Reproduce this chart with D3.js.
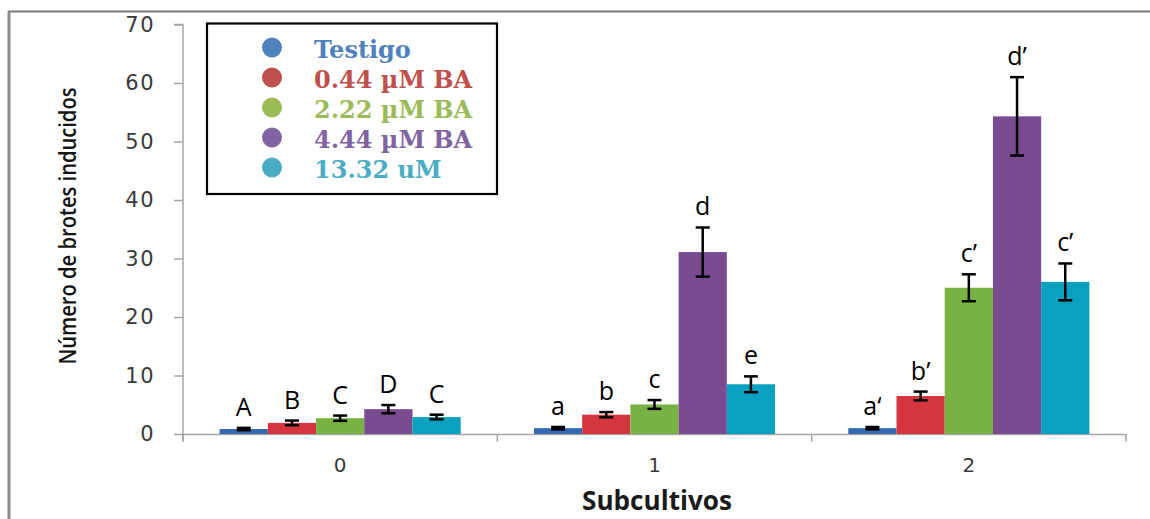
<!DOCTYPE html>
<html lang="es">
<head>
    <meta charset="UTF-8">
    <title>Número de brotes inducidos</title>
    <script src="https://cdn.jsdelivr.net/npm/d3@7"></script>
    <style>
        body{ margin:0; background:#fff; }
        .ytick text{ font-family:"DejaVu Sans",sans-serif; font-size:21px; fill:#3a3a3a; letter-spacing:1.5px; }
        .xtick text{ font-family:"DejaVu Sans",sans-serif; font-size:20px; fill:#3a3a3a; }
        .tag{ font-family:"Open Sans",sans-serif; font-size:25px; fill:#000; }
        .legendText{ font-family:"DejaVu Serif",serif; font-weight:bold; font-size:24px; }
    </style>
</head>
<body>
<svg width="1150" height="519"></svg>
<script>
    // values
    const categories = ["0", "1", "2"];
    const series = ["Testigo", "0.44 \u00b5M BA", "2.22 \u00b5M BA", "4.44 \u00b5M BA", "13.32 uM"];
    const barColors = ["#3468B2", "#D5353E", "#77B243", "#7B4B92", "#0AA1C1"];
    const legendColors = ["#4F81BD", "#C0504D", "#9BBB59", "#8064A2", "#4BACC6"];
    // one list per series, one value per subculture
    const testigo = [0.85, 1.0, 1.0];
    const ba044 = [1.9, 3.3, 6.5];
    const ba222 = [2.7, 5.05, 25.0];
    const ba444 = [4.25, 31.1, 54.3];
    const ba1332 = [2.9, 8.5, 26.0];
    const errTestigo = [0.2, 0.2, 0.2];
    const err044 = [0.4, 0.45, 0.75];
    const err222 = [0.45, 0.75, 2.3];
    const err444 = [0.7, 4.2, 6.7];
    const err1332 = [0.4, 1.35, 3.15];
    const letters0 = ["A", "B", "C", "D", "C"];
    const letters1 = ["a", "b", "c", "d", "e"];
    const letters2 = ["a\u2018", "b\u2019", "c\u2019", "d\u2019", "c\u2019"];
    const yTicks = [0, 10, 20, 30, 40, 50, 60, 70];

    const means = [testigo, ba044, ba222, ba444, ba1332];
    const errs = [errTestigo, err044, err222, err444, err1332];
    const letters = [letters0, letters1, letters2];

    const svg = d3.select("svg");

    // outer frame (top and left edges only are visible)
    svg.append("line").attr("x1", 8).attr("x2", 1150).attr("y1", 11.5).attr("y2", 11.5)
        .attr("stroke", "#7a7a7a").attr("stroke-width", 2);
    svg.append("line").attr("x1", 9).attr("x2", 9).attr("y1", 11).attr("y2", 519)
        .attr("stroke", "#8a8a8a").attr("stroke-width", 3);

    const y = d3.scaleLinear().domain([0, 70]).range([434, 24.5]);
    const x0 = d3.scaleBand().domain(categories).range([183, 1126]);
    const x1 = d3.scaleBand().domain(series).range([0, x0.bandwidth()]).paddingOuter(0.76);

    // y axis
    svg.append("g")
        .attr("class", "ytick")
        .attr("transform", "translate(183,0)")
        .call(d3.axisLeft(y).tickValues(yTicks).tickSize(9).tickPadding(19))
        .call(g => g.selectAll("line, path").attr("stroke", "#a6a6a6").attr("stroke-width", 1.5))
        .call(g => g.select(".domain").attr("d", "M-9,24.5H0V441.5"));

    // x axis
    const xg = svg.append("g")
        .attr("class", "xtick")
        .attr("transform", "translate(0,434)")
        .call(d3.axisBottom(x0).tickSize(0).tickPadding(24));
    xg.select(".domain").attr("stroke", "#a6a6a6").attr("stroke-width", 1.5);
    const bounds = categories.map(c => x0(c)).concat([x0.range()[1]]);
    xg.selectAll(".bound").data(bounds).enter().append("line")
        .attr("x1", d => d).attr("x2", d => d).attr("y1", 0).attr("y2", 7.5)
        .attr("stroke", "#a6a6a6").attr("stroke-width", 1.5);

    // bars
    const groups = svg.selectAll(".grp").data(categories).enter().append("g")
        .attr("transform", d => `translate(${x0(d)},0)`);

    groups.each(function (cat, ci) {
        const g = d3.select(this);
        const rows = series.map((s, si) => ({
            s, si, v: means[si][ci], e: errs[si][ci], t: letters[ci][si]
        }));
        g.selectAll("rect").data(rows).enter().append("rect")
            .attr("x", d => x1(d.s))
            .attr("y", d => y(d.v))
            .attr("width", x1.bandwidth())
            .attr("height", d => y(0) - y(d.v))
            .attr("fill", d => barColors[d.si]);

        const eb = g.selectAll(".err").data(rows).enter().append("g")
            .attr("stroke", "#000").attr("stroke-width", 2.5);
        const cx = d => x1(d.s) + x1.bandwidth() / 2;
        eb.append("line").attr("x1", cx).attr("x2", cx)
            .attr("y1", d => y(d.v + d.e)).attr("y2", d => y(d.v - d.e));
        eb.append("line").attr("x1", d => cx(d) - 7).attr("x2", d => cx(d) + 7)
            .attr("y1", d => y(d.v + d.e)).attr("y2", d => y(d.v + d.e));
        eb.append("line").attr("x1", d => cx(d) - 7).attr("x2", d => cx(d) + 7)
            .attr("y1", d => y(d.v - d.e)).attr("y2", d => y(d.v - d.e));

        g.selectAll(".tag").data(rows).enter().append("text")
            .attr("class", "tag")
            .attr("x", cx)
            .attr("y", d => y(d.v + d.e) - 12)
            .attr("text-anchor", "middle")
            .text(d => d.t);
    });

    // axis titles
    svg.append("text")
        .attr("transform", "translate(76,226) rotate(-90)")
        .attr("text-anchor", "middle")
        .attr("font-family", "Open Sans, sans-serif")
        .attr("font-weight", 600)
        .attr("font-size", 24)
        .attr("fill", "#141414")
        .attr("textLength", 277)
        .attr("lengthAdjust", "spacingAndGlyphs")
        .text("Número de brotes inducidos");

    svg.append("text")
        .attr("x", 657).attr("y", 510)
        .attr("text-anchor", "middle")
        .attr("font-family", "Open Sans, sans-serif")
        .attr("font-weight", "bold")
        .attr("font-size", 26)
        .attr("fill", "#1a1a1a")
        .attr("textLength", 150)
        .attr("lengthAdjust", "spacingAndGlyphs")
        .text("Subcultivos");

    // legend
    const legend = svg.append("g");
    legend.append("rect").attr("x", 207).attr("y", 23.5).attr("width", 290).attr("height", 170.5)
        .attr("fill", "#fff").attr("stroke", "#000").attr("stroke-width", 2.2);
    const items = legend.selectAll(".item").data(series).enter().append("g")
        .attr("transform", (d, i) => `translate(272,${47.5 + i * 30})`);
    items.append("circle").attr("r", 10).attr("fill", (d, i) => legendColors[i]);
    items.append("text").attr("class", "legendText")
        .attr("x", 42).attr("y", 10)
        .attr("fill", (d, i) => legendColors[i])
        .text(d => d);
</script>
</body>
</html>
